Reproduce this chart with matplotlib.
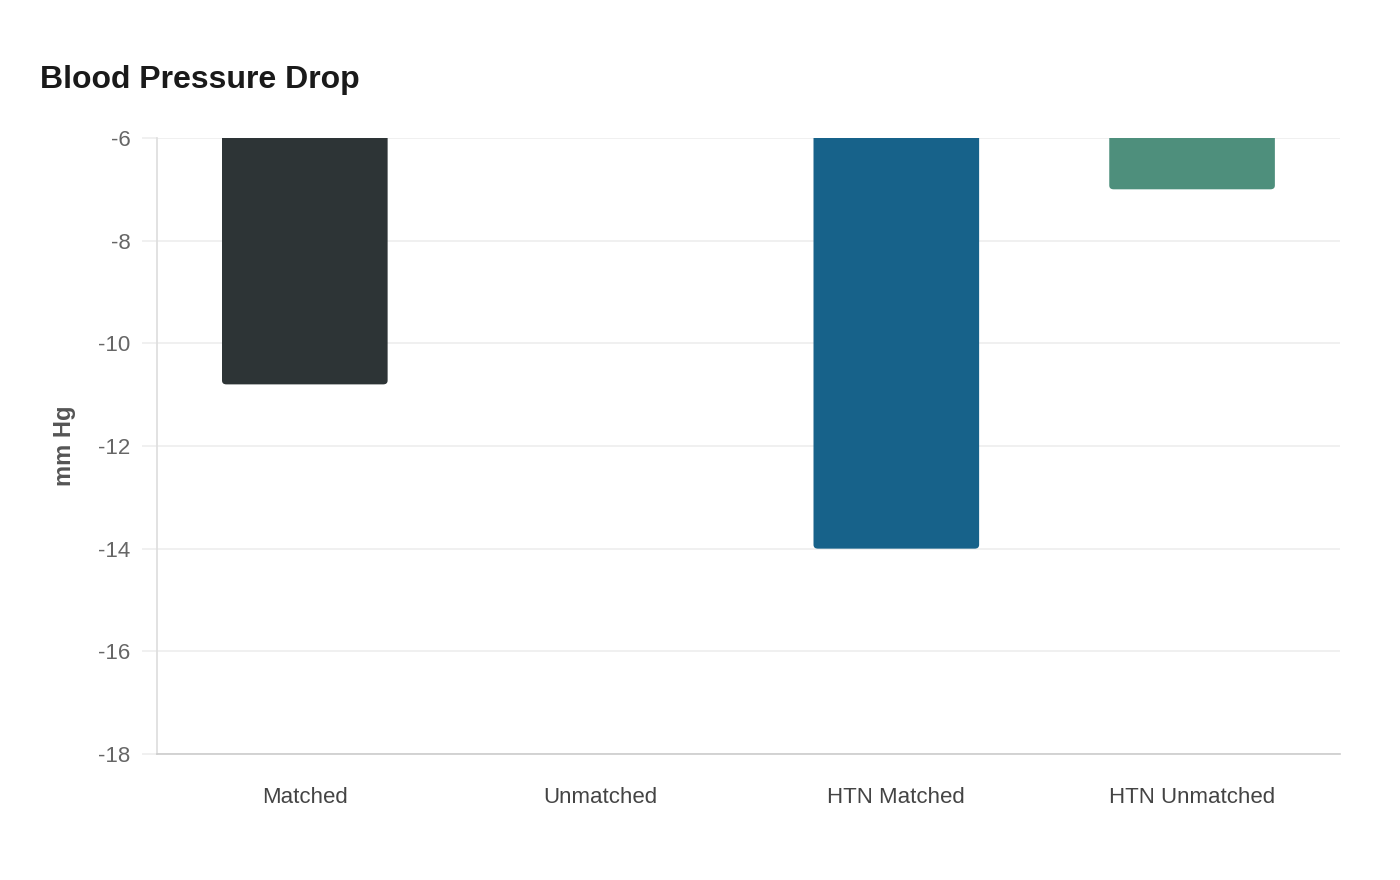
import matplotlib
matplotlib.use("Agg")
from matplotlib import pyplot as plt
from matplotlib.patches import FancyBboxPatch

plt.rcParams['font.family'] = ['Liberation Sans', 'DejaVu Sans']

categories = ['Matched', 'Unmatched', 'HTN Matched', 'HTN Unmatched']
values = [-10.8, -5.0, -14.0, -7.0]
colors = ['#2d3436', '#6c7a89', '#17628a', '#4e8f7c']
y_ticks = [-18, -16, -14, -12, -10, -8, -6]

fig = plt.figure(figsize=(14, 8.8), dpi=100)
ax = fig.add_axes([0.1121, 0.1432, 0.8450, 0.7000])

bars = ax.bar(categories, values, width=0.56, color=colors, zorder=2)
ax.set_ylim(-18, -6)
ax.set_xlim(-0.5, 3.5)

# rounded bottom corners: swap each bar for a rounded box of the same size
for b in bars:
    x, y0 = b.get_x(), b.get_y()
    w, h = b.get_width(), b.get_height()
    yb = min(y0, y0 + h)
    patch = FancyBboxPatch((x, yb), w, abs(h),
                           boxstyle="round,pad=0,rounding_size=0.015",
                           mutation_aspect=5.0,
                           facecolor=b.get_facecolor(), edgecolor='none',
                           zorder=2)
    b.remove()
    ax.add_patch(patch)

ax.set_yticks(y_ticks)
ax.set_yticklabels([str(t) for t in y_ticks])
ax.grid(axis='y', color='#eeeeee', linewidth=1.2, zorder=0)
ax.tick_params(axis='y', length=11, color='#eeeeee', width=1.2,
               labelsize=16, labelcolor='#666666', pad=8)
ax.tick_params(axis='x', length=0, labelsize=16, labelcolor='#444444', pad=24)

for s in ['top', 'right']:
    ax.spines[s].set_visible(False)
ax.spines['left'].set_color('#dddddd')
ax.spines['bottom'].set_color('#cccccc')
ax.spines['left'].set_linewidth(1.2)
ax.spines['bottom'].set_linewidth(1.2)

ax.set_ylabel('mm Hg', fontsize=17, fontweight='bold', color='#555555', labelpad=16)
fig.text(40 / 1400, 1 - 80 / 880, 'Blood Pressure Drop', fontsize=23,
         fontweight='bold', color='#1a1a1a', va='center', ha='left')

fig.savefig('out.png', dpi=100, facecolor='white')
